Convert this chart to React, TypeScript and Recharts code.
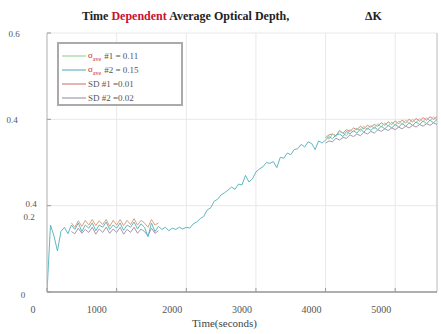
import { LineChart, Line, XAxis, YAxis, CartesianGrid, ReferenceLine } from "recharts"

// time axis (seconds), 50 s steps
const times = [
  0, 50, 100, 150, 200, 250, 300, 350, 400, 450,
  500, 550, 600, 650, 700, 750, 800, 850, 900, 950,
  1000, 1050, 1100, 1150, 1200, 1250, 1300, 1350, 1400, 1450,
  1500, 1550, 1600, 1650, 1700, 1750, 1800, 1850, 1900, 1950,
  2000, 2050, 2100, 2150, 2200, 2250, 2300, 2350, 2400, 2450,
  2500, 2550, 2600, 2650, 2700, 2750, 2800, 2850, 2900, 2950,
  3000, 3050, 3100, 3150, 3200, 3250, 3300, 3350, 3400, 3450,
  3500, 3550, 3600, 3650, 3700, 3750, 3800, 3850, 3900, 3950,
  4000, 4050, 4100, 4150, 4200, 4250, 4300, 4350, 4400, 4450,
  4500, 4550, 4600, 4650, 4700, 4750, 4800, 4850, 4900, 4950,
  5000, 5050, 5100, 5150, 5200, 5250, 5300, 5350, 5400, 5450,
  5500, 5550, 5600,
]

const avg2Values = [
  0, 0.155, 0.13, 0.095, 0.14, 0.15, 0.135, 0.155, 0.145, 0.16,
  0.14, 0.155, 0.148, 0.16, 0.142, 0.155, 0.15, 0.162, 0.145, 0.155,
  0.148, 0.16, 0.143, 0.155, 0.15, 0.162, 0.146, 0.158, 0.15, 0.128,
  0.16, 0.14, 0.152, 0.145, 0.15, 0.142, 0.148, 0.145, 0.15, 0.146,
  0.15, 0.148, 0.158, 0.162, 0.17, 0.175, 0.19, 0.195, 0.21, 0.215,
  0.225, 0.23, 0.236, 0.243, 0.238, 0.25, 0.248, 0.27, 0.255, 0.262,
  0.278, 0.285, 0.29, 0.3, 0.298, 0.302, 0.288, 0.312, 0.31, 0.322,
  0.318, 0.33, 0.332, 0.342, 0.336, 0.348, 0.344, 0.33, 0.35, 0.345,
  0.352, 0.36, 0.355, 0.364, 0.366, 0.36, 0.372, 0.366, 0.374, 0.368,
  0.378, 0.37, 0.38, 0.374, 0.382, 0.376, 0.384, 0.378, 0.386, 0.38,
  0.388, 0.382, 0.39, 0.384, 0.392, 0.386, 0.394, 0.388, 0.396, 0.39,
  0.398, 0.392, 0.4,
]

const earlyTimes = [
  350, 400, 450, 500, 550, 600, 650, 700, 750, 800,
  850, 900, 950, 1000, 1050, 1100, 1150, 1200, 1250, 1300,
  1350, 1400, 1450, 1500, 1550, 1600,
]

const lateTimes = [
  4000, 4050, 4100, 4150, 4200, 4250, 4300, 4350, 4400, 4450,
  4500, 4550, 4600, 4650, 4700, 4750, 4800, 4850, 4900, 4950,
  5000, 5050, 5100, 5150, 5200, 5250, 5300, 5350, 5400, 5450,
  5500, 5550, 5600,
]

const avg1Late = [
  0.362, 0.354, 0.366, 0.36, 0.372, 0.368, 0.362, 0.376, 0.37, 0.38,
  0.372, 0.384, 0.376, 0.386, 0.378, 0.39, 0.382, 0.392, 0.384, 0.394,
  0.386, 0.396, 0.388, 0.398, 0.39, 0.4, 0.392, 0.402, 0.394, 0.404,
  0.396, 0.406, 0.398,
]

const sd1Early = [
  0.16, 0.15, 0.165, 0.152, 0.166, 0.155, 0.168, 0.154, 0.165, 0.156,
  0.168, 0.152, 0.166, 0.155, 0.168, 0.154, 0.166, 0.156, 0.17, 0.155,
  0.166, 0.16, 0.15, 0.168, 0.155, 0.16,
]

const sd1Late = [
  0.358, 0.364, 0.366, 0.362, 0.374, 0.368, 0.376, 0.372, 0.38, 0.376,
  0.384, 0.378, 0.386, 0.382, 0.388, 0.384, 0.392, 0.386, 0.394, 0.388,
  0.396, 0.39, 0.398, 0.392, 0.4, 0.394, 0.402, 0.396, 0.404, 0.398,
  0.406, 0.4, 0.406,
]

const sd2Early = [
  0.14, 0.135, 0.148, 0.136, 0.145, 0.138, 0.15, 0.134, 0.146, 0.138,
  0.15, 0.136, 0.146, 0.138, 0.15, 0.134, 0.145, 0.138, 0.15, 0.136,
  0.146, 0.14, 0.13, 0.148, 0.136, 0.142,
]

const sd2Late = [
  0.345, 0.35, 0.348, 0.356, 0.352, 0.358, 0.356, 0.364, 0.36, 0.366,
  0.362, 0.37, 0.366, 0.372, 0.368, 0.376, 0.372, 0.378, 0.374, 0.38,
  0.376, 0.382, 0.378, 0.384, 0.38, 0.386, 0.382, 0.388, 0.384, 0.39,
  0.386, 0.392, 0.388,
]

const xTicks = [0, 1000, 2000, 3000, 4000, 5000]
const yTicks = [0, 0.2, 0.4, 0.6]
const yTickLabels = ["0", "0.2", "0.4", "0.6"]
const strayYLabel = "0.4"

const legendNames = ["#1 = 0.11", "#2 = 0.15", "SD #1 =0.01", "SD #2 =0.02"]
const legendSigma = [true, true, false, false]

const COLORS = ["#9ed69a", "#62b6c4", "#d48282", "#a39aa6"]
const FONT = "'Liberation Serif', 'DejaVu Serif', serif"

const zip = (xs: number[], ys: number[]) => xs.map((t, i) => ({ t, v: ys[i] }))

// label positions relative to the tick point (the raster has odd label placement)
const yLabelOffsets: Record<string, { dx: number; dy: number }> = {
  "0": { dx: -24, dy: 6 },
  "0.2": { dx: -18, dy: 14 },
  "0.4": { dx: -35, dy: 4 },
  "0.6": { dx: -33, dy: 4 },
}

function YTick(props: any) {
  const { x, y, payload } = props
  const idx = yTicks.indexOf(payload.value)
  const label = yTickLabels[idx] ?? String(payload.value)
  const off = yLabelOffsets[label] ?? { dx: -20, dy: 4 }
  return (
    <g>
      <line x1={x} x2={x + 4} y1={y} y2={y} stroke="#999" />
      <text x={x + off.dx} y={y + off.dy} textAnchor="middle" fontSize={9} fill="#555" fontFamily={FONT}>
        {label}
      </text>
      {payload.value === 0.2 && (
        <text x={x - 16} y={y + 1} textAnchor="middle" fontSize={9} fill="#555" fontFamily={FONT}>
          {strayYLabel}
        </text>
      )}
    </g>
  )
}

function XTick(props: any) {
  const { x, y, payload } = props
  const shift = payload.value === 1000 ? -20 : -14
  return (
    <g>
      <line x1={x} x2={x} y1={y} y2={y - 4} stroke="#999" />
      <text x={x + shift} y={y + 21} textAnchor="middle" fontSize={10} fill="#555" fontFamily={FONT}>
        {payload.value}
      </text>
    </g>
  )
}

function TopTick(props: any) {
  const { x, y } = props
  return <line x1={x} x2={x} y1={y} y2={y + 4} stroke="#999" />
}

function LegendBox() {
  return (
    <div
      style={{
        position: "absolute",
        left: 57,
        top: 42,
        border: "2px solid #aaa",
        width: 126,
        height: 64,
        boxSizing: "border-box",
        padding: "5px 0 0 3px",
        background: "#fff",
        fontFamily: FONT,
        fontSize: 9,
        color: "#555",
      }}
    >
      {legendNames.map((name, i) => (
        <div key={name} style={{ display: "flex", alignItems: "center", height: 14 }}>
          <svg width={24} height={6} style={{ marginRight: 2 }}>
            <line x1={0} x2={24} y1={3} y2={3} stroke={COLORS[i]} strokeWidth={1.2} />
          </svg>
          {legendSigma[i] && (
            <span style={{ color: "#c41e2a", marginRight: 3 }}>
              σ<sub style={{ fontSize: 6 }}>ave</sub>
            </span>
          )}
          <span>{name}</span>
        </div>
      ))}
    </div>
  )
}

export default function App() {
  const avg2 = zip(times, avg2Values)
  return (
    <div style={{ position: "absolute", left: 0, top: 0, width: 441, height: 334, background: "#fff" }}>
      <div
        style={{
          position: "absolute",
          left: 82,
          top: 9,
          fontFamily: FONT,
          fontWeight: "bold",
          fontSize: 12,
          color: "#222",
          whiteSpace: "nowrap",
        }}
      >
        Time <span style={{ color: "#c8102e" }}>Dependent</span> Average Optical Depth,
      </div>
      <div
        style={{
          position: "absolute",
          left: 365,
          top: 9,
          fontFamily: FONT,
          fontWeight: "bold",
          fontSize: 12,
          color: "#222",
        }}
      >
        ΔK
      </div>
      <LineChart width={441} height={334} margin={{ top: 33, right: 4, bottom: 22, left: 0 }}>
        <CartesianGrid stroke="#e8e8e8" horizontalValues={yTicks} verticalValues={xTicks} />
        <XAxis
          type="number"
          dataKey="t"
          domain={[0, 5600]}
          ticks={xTicks}
          allowDataOverflow
          height={20}
          tickLine={false}
          tickSize={0}
          tickMargin={0}
          stroke="#999"
          strokeWidth={1.5}
          tick={<XTick />}
        />
        <XAxis
          xAxisId="top"
          orientation="top"
          type="number"
          dataKey="t"
          domain={[0, 5600]}
          ticks={xTicks}
          height={0}
          tickLine={false}
          tickSize={0}
          tickMargin={0}
          stroke="#bbb"
          tick={<TopTick />}
        />
        <YAxis
          type="number"
          domain={[0, 0.6]}
          ticks={yTicks}
          width={47}
          tickLine={false}
          tickSize={0}
          tickMargin={0}
          stroke="#bbb"
          tick={<YTick />}
        />
        <ReferenceLine x={5600} stroke="#bbb" />
        <Line data={zip(earlyTimes, sd2Early)} dataKey="v" stroke={COLORS[3]} dot={false} strokeWidth={1} isAnimationActive={false} />
        <Line data={zip(earlyTimes, sd1Early)} dataKey="v" stroke="#dca27c" dot={false} strokeWidth={1} isAnimationActive={false} />
        <Line data={zip(lateTimes, sd2Late)} dataKey="v" stroke={COLORS[3]} dot={false} strokeWidth={1} isAnimationActive={false} />
        <Line data={zip(lateTimes, sd1Late)} dataKey="v" stroke={COLORS[2]} dot={false} strokeWidth={1} isAnimationActive={false} />
        <Line data={zip(lateTimes, avg1Late)} dataKey="v" stroke={COLORS[0]} dot={false} strokeWidth={1} isAnimationActive={false} />
        <Line data={avg2} dataKey="v" stroke={COLORS[1]} dot={false} strokeWidth={1} isAnimationActive={false} />
      </LineChart>
      <LegendBox />
      <div
        style={{
          position: "absolute",
          left: 192,
          top: 317,
          fontFamily: FONT,
          fontSize: 11,
          color: "#444",
        }}
      >
        Time(seconds)
      </div>
    </div>
  )
}
